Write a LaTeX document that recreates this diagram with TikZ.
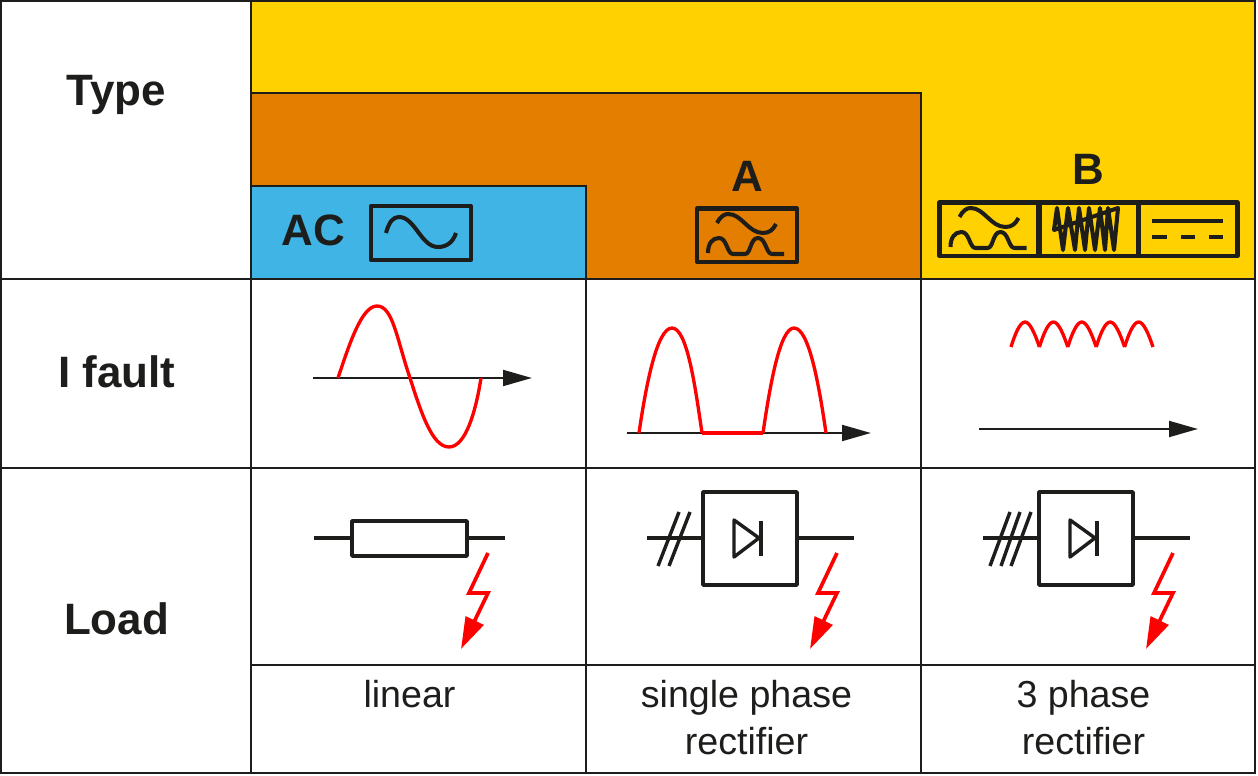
\documentclass[tikz,border=0pt]{standalone}
\usepackage{fontspec}
\setmainfont{Liberation Sans}
\usetikzlibrary{arrows.meta}
\definecolor{typeyellow}{HTML}{FFD100}
\definecolor{typeorange}{HTML}{E37E00}
\definecolor{typeblue}{HTML}{41B4E6}
\definecolor{inkblack}{HTML}{1D1D1B}
\tikzstyle{grid}=[inkblack,line width=.85pt]
\tikzstyle{symbol}=[inkblack,line width=2.3pt,line join=round]
\tikzstyle{loadsymbol}=[inkblack,line width=1.95pt,line join=round]
\tikzstyle{wave}=[red,line width=1.9pt,line join=round]
\tikzstyle{axis}=[inkblack,line width=1.4pt,-{Triangle[length=16.5pt,width=9pt]}]
\tikzstyle{bolt}=[red,line width=2.1pt,miter limit=10,-{Triangle[length=18pt,width=11pt]}]
\tikzstyle{rowlabel}=[inkblack,anchor=base,font=\fontsize{25}{28}\selectfont\bfseries]
\tikzstyle{loadlabel}=[inkblack,anchor=base,font=\fontsize{21.4}{26}\selectfont]
% sine over half wave, placed for the A column
\newcommand{\filtericon}{
	\draw[symbol] (697,208.5) rectangle (797,262);
	\draw[symbol] (717,223) .. controls (720,217) and (724,214) .. (728,214) .. controls (742,214) and (748,233) .. (763,233) .. controls (769,233) and (773,230) .. (776,224);
	\draw[symbol] (708,253) .. controls (708,244) and (712,238) .. (719,238) .. controls (727,238) and (727,254) .. (733,254) -- (745,254) .. controls (751,254) and (750,238) .. (758,238) .. controls (766,238) and (766,254) .. (772,254) -- (784,254);
}
% bolt only, placed for the A column
\newcommand{\faultbolt}{
	\draw[bolt] (837,553) -- (818,593) -- (837,593) -- (810,649);
}
% rectifier box with diode, placed for the A column
\newcommand{\rectifier}{
	\draw[loadsymbol] (703,492) rectangle (797,585);
	\draw[loadsymbol] (647,538) -- (703,538);
	\draw[loadsymbol] (797,538) -- (854,538);
	\draw[loadsymbol] (734,520) -- (734,557) -- (759,538) -- cycle;
	\draw[loadsymbol,line width=2.8pt] (761,521) -- (761,556);
}
\begin{document}
\begin{tikzpicture}[x=.02cm,y=-.02cm]
	\useasboundingbox (0,0) rectangle (1258,776);
	% colour bands
	\fill[typeyellow] (251,1) rectangle (1255,279);
	\filldraw[fill=typeorange,draw=inkblack,line width=.85pt] (251,93) rectangle (921,279);
	\filldraw[fill=typeblue,draw=inkblack,line width=.85pt] (251,186) rectangle (586,279);
	% table
	\draw[grid] (1,1) rectangle (1255,773);
	\draw[grid] (251,1) -- (251,773);
	\draw[grid] (586,279) -- (586,773);
	\draw[grid] (921,279) -- (921,773);
	\draw[grid] (1,279) -- (1255,279);
	\draw[grid] (1,468) -- (1255,468);
	\draw[grid] (251,665) -- (1255,665);
	% row titles
	\node[rowlabel] (typelabel) at (116.5,106) {Type};
	\node[rowlabel] (faultlabel) at (117,388) {I fault};
	\node[rowlabel] (loadlabel) at (116.5,635) {Load};
	% AC head
	\node[rowlabel] (aclabel) at (313.5,246) {AC};
	\draw[symbol] (371,206) rectangle (471,260);
	\draw[symbol] (386,233) .. controls (389,222) and (393,217) .. (399,217) .. controls (415,217) and (421,247) .. (438,247) .. controls (447,247) and (453,242) .. (456,233);
	% A head
	\node[rowlabel] (alabel) at (747,192) {A};
	\filtericon
	% B head
	\node[rowlabel] (blabel) at (1088.5,185) {B};
	\begin{scope}[shift={(242.5,-6)}]
		\filtericon
	\end{scope}
	\draw[symbol] (1038.5,202.5) rectangle (1138.5,256);
	\draw[symbol] (1138.5,202.5) rectangle (1237.5,256);
	\draw[symbol] (1054,230) -- (1057,208) -- (1063,250) -- (1068,208) -- (1075,250) -- (1079,208) -- (1085,250) -- (1089,208) -- (1095,250) -- (1100,208) -- (1105,250) -- (1108,208) -- (1114,250) -- (1118,208) -- cycle;
	\draw[symbol] (1152,221) -- (1223,221);
	\draw[symbol] (1152,237) -- (1167,237);
	\draw[symbol] (1181,237) -- (1195,237);
	\draw[symbol] (1209,237) -- (1223,237);
	% fault currents
	\draw[axis] (313,378) -- (532,378);
	\draw[wave] (338,378) .. controls (350,342) and (362,306) .. (377,306) .. controls (393,306) and (397,340) .. (410,378) .. controls (421,412) and (432,447) .. (449,447) .. controls (466,447) and (476,410) .. (481,378);
	\draw[axis] (627,433) -- (871,433);
	\draw[wave] (639,433) .. controls (646,385) and (657,328) .. (672,328) .. controls (687,328) and (695,385) .. (702,433);
	\draw[wave,line width=2.4pt] (702,433) -- (763,433);
	\draw[wave] (763,433) .. controls (770,385) and (780,328) .. (794,328) .. controls (809,328) and (819,385) .. (826,433);
	\draw[axis] (979,429) -- (1198,429);
	\foreach \i in {0,...,4}
		\draw[wave,shift={(28.4*\i,0)}] (1011,347) .. controls (1015,334) and (1020,322) .. (1025,322) .. controls (1030,322) and (1035,334) .. (1039.4,347);
	% loads
	\draw[loadsymbol] (314,538) -- (352,538);
	\draw[loadsymbol] (467,538) -- (505,538);
	\draw[loadsymbol] (352,521) rectangle (467,556);
	\begin{scope}[shift={(-349,0)}]
		\faultbolt
	\end{scope}
	\rectifier
	\draw[loadsymbol] (658,566) -- (679,512);
	\draw[loadsymbol] (669,566) -- (690,512);
	\faultbolt
	\begin{scope}[shift={(336,0)}]
		\rectifier
		\faultbolt
	\end{scope}
	\draw[loadsymbol] (990,566) -- (1010,512);
	\draw[loadsymbol] (1001,566) -- (1020,512);
	\draw[loadsymbol] (1011,566) -- (1031,512);
	% load names
	\node[loadlabel] (linearlabel) at (409.5,707) {linear};
	\node[loadlabel] (singlelabel) at (746.5,707) {single phase};
	\node[loadlabel] (singlerect) at (746.5,754) {rectifier};
	\node[loadlabel] (threelabel) at (1083.5,707) {3 phase};
	\node[loadlabel] (threerect) at (1083.5,754) {rectifier};
\end{tikzpicture}
\end{document}
